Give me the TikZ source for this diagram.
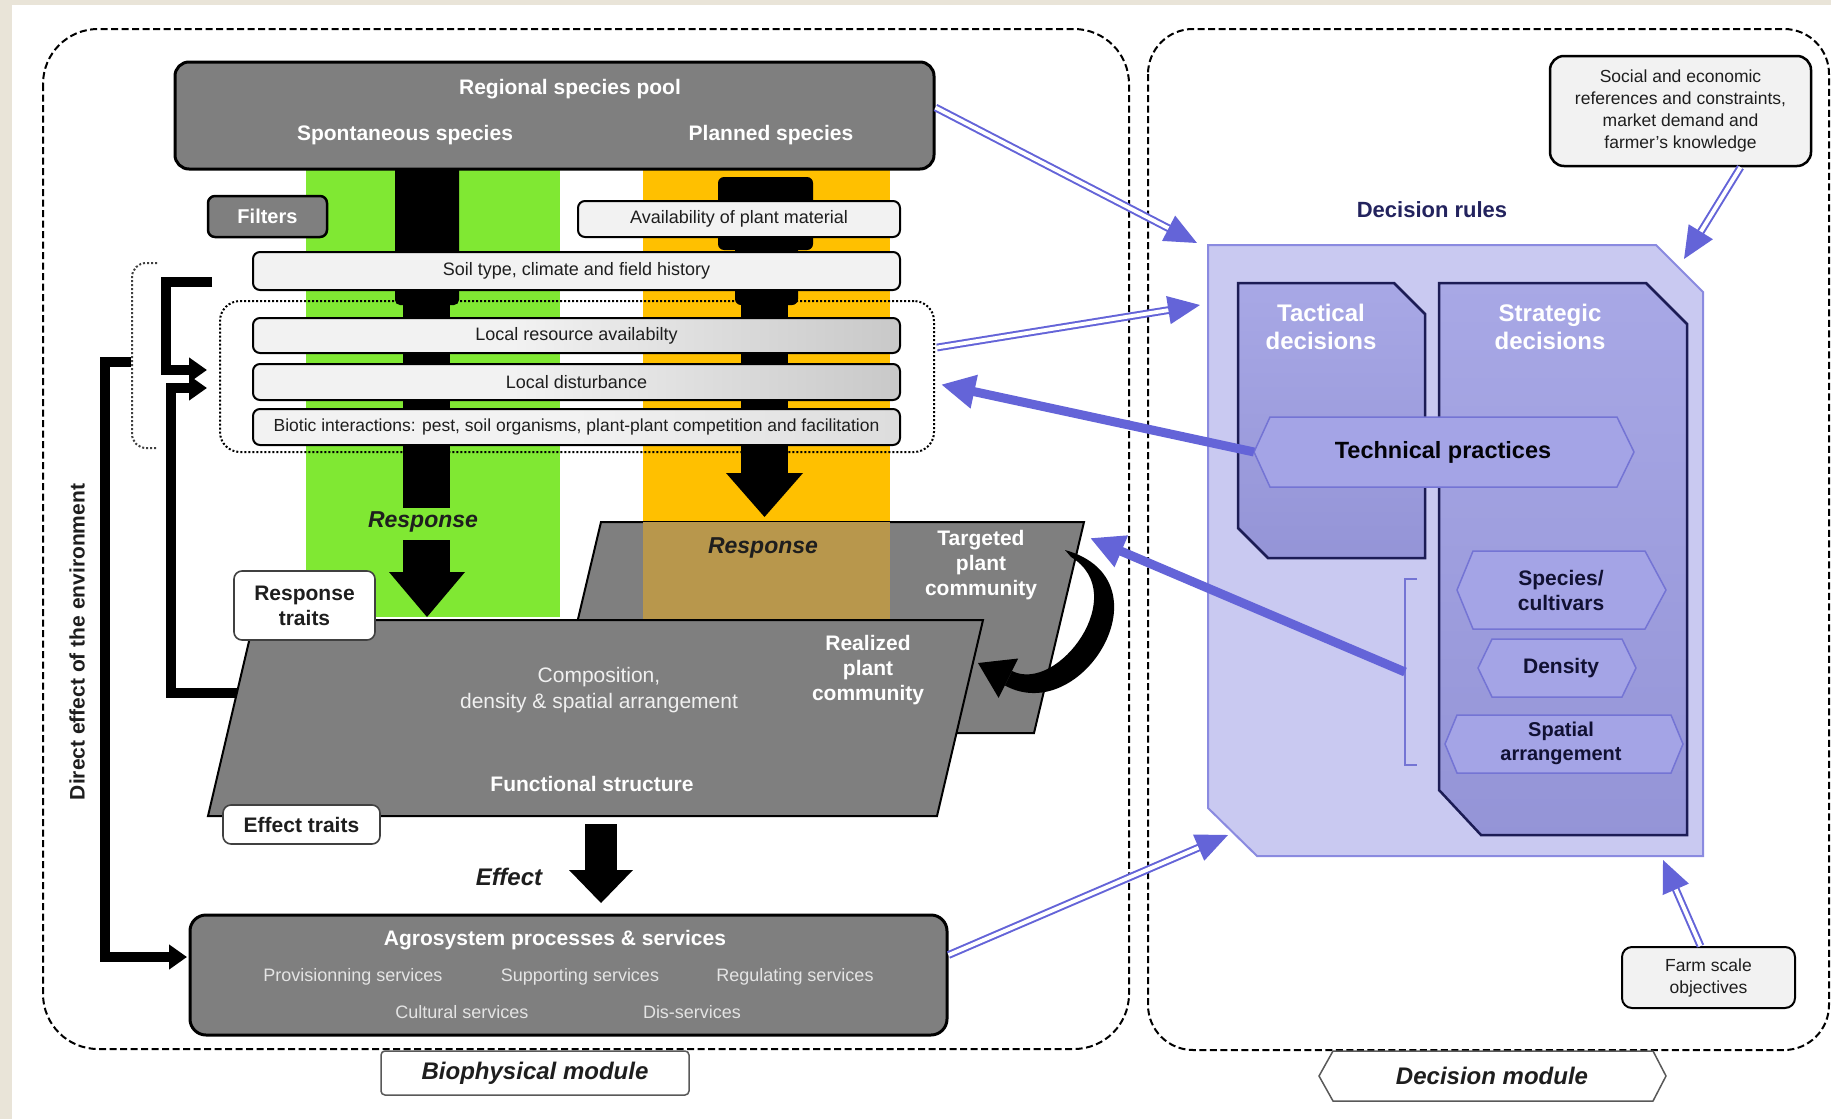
\documentclass[tikz,border=0pt]{standalone}
\usepackage{fontspec}
\setmainfont{Liberation Sans}
\usetikzlibrary{arrows.meta,calc}
\newcommand\fsz[2]{\fontsize{#1}{#2}\selectfont}
\definecolor{beige}{HTML}{E9E4D8}
\definecolor{boxgray}{HTML}{7F7F7F}
\definecolor{paleg}{HTML}{F2F2F2}
\definecolor{lime}{HTML}{80E833}
\definecolor{amber}{HTML}{FFC000}
\definecolor{blend}{HTML}{B8974C}
\definecolor{lav}{HTML}{C9C9F1}
\definecolor{lavline}{HTML}{8A8AE0}
\definecolor{midlav}{HTML}{9C9CE2}
\definecolor{navy}{HTML}{1C1C55}
\definecolor{hexfill}{HTML}{A4A4E6}
\definecolor{hexline}{HTML}{7474D4}
\definecolor{apurple}{HTML}{6464D8}
\definecolor{rulesnavy}{HTML}{23235E}
\definecolor{txtdark}{HTML}{1E1E1E}
\definecolor{servtxt}{HTML}{E4E4E4}
\pgfdeclarehorizontalshading{filtshade}{100bp}{color(0bp)=(paleg); color(45bp)=(paleg); color(100bp)=(black!35)}
\pgfdeclarehorizontalshading{filtshadelight}{100bp}{color(0bp)=(paleg); color(50bp)=(paleg); color(100bp)=(black!22)}
\begin{document}
\begin{tikzpicture}[x=1pt,y=-1pt,
  frame/.style={draw=black, line width=2, dash pattern=on 7pt off 3.5pt},
  darkbox/.style={draw=black, line width=3, fill=boxgray, rounded corners=14, inner sep=0},
  palebox/.style={draw=black, line width=2, fill=paleg, rounded corners=7, inner sep=0, font=\fsz{18}{21}, text=txtdark},
  shadebox/.style={palebox, shading=#1},
  whitebox/.style={draw=black!75, line width=1.6, fill=white, rounded corners=8, inner sep=0, font=\fsz{21}{25}\bfseries, align=center, text=txtdark},
  wbold/.style={text=white, font=\fsz{21}{25}\bfseries, align=center, inner sep=0},
  wreg/.style={text=white!94!black, font=\fsz{21}{26}, align=center, inner sep=0},
  serv/.style={text=servtxt, font=\fsz{18}{21}, inner sep=0},
  tagital/.style={font=\fsz{24}{28}\bfseries\itshape, text=txtdark, inner sep=0},
  blk/.style={line width=10, line join=miter, -{Triangle[length=18pt,width=24pt]}},
  dbl/.style={draw=apurple, line width=2, double=white, double distance=3.8, -{Triangle[length=32pt,width=28pt]}},
  thick purple/.style={draw=apurple, line width=9, -{Triangle[length=34pt,width=32pt]}},
  hexa/.style={fill=hexfill, draw=hexline, line width=1.5},
  dectxt/.style={font=\fsz{21}{25}\bfseries, text=navy!60!black, align=center, inner sep=0}
]
\useasboundingbox (0,0) rectangle (1831,1119);
\fill[white] (0,0) rectangle (1831,1119);
\fill[beige] (0,0) rectangle (12,1119);
\fill[beige] (0,0) rectangle (1831,5);

% ---------- the two module frames ----------
\draw[frame, rounded corners=55] (43,29) rectangle (1129,1049);
\draw[frame, rounded corners=45] (1148,29) rectangle (1829,1050);

% ---------- species columns ----------
\fill[lime] (306,160) rectangle (560,617);
\fill[amber] (643,160) rectangle (890,617);

% ---------- flows of species through the filters ----------
\fill[black, rounded corners=5] (395,150) rectangle (459,305);
\fill[black] (403,295) rectangle (450,508);
\fill[black, rounded corners=6] (718,177) rectangle (813,250);
\fill[black, rounded corners=6] (735,240) rectangle (798,305);
\fill[black] (741,295) rectangle (788,474);
\fill[black] (726,473) -- (803,473) -- (764.5,517) -- cycle;
\fill[black] (403,540) rectangle (450,573);
\fill[black] (389,572) -- (465,572) -- (427,617) -- cycle;
\node[tagital, font=\fsz{23}{27}\bfseries\itshape] (respA) at (423,522) {Response};

% ---------- regional species pool ----------
\node[darkbox, minimum width=759, minimum height=107] (pool) at (554.5,115.5) {};
\node[wbold] (poolT) at (570,89) {Regional species pool};
\node[wbold] (spont) at (405,135) {Spontaneous species};
\node[wbold] (plan) at (771,135) {Planned species};

% ---------- filters ----------
\node[darkbox, rounded corners=7, line width=2.5, minimum width=119, minimum height=41, text=white, font=\fsz{20}{24}\bfseries] (filters) at (267.5,216.5) {Filters};
\node[palebox, minimum width=322, minimum height=36] (avail) at (739,219) {Availability of plant material};
\node[palebox, minimum width=647, minimum height=38] (soil) at (576.5,271) {Soil type, climate and field history};
\node[draw=black, line width=2, dash pattern=on 2pt off 2pt, rounded corners=20, minimum width=714, minimum height=151, inner sep=0] (local) at (577,376.5) {};
\node[shadebox=filtshade, minimum width=647, minimum height=35] (res) at (576.5,335.5) {Local resource availabilty};
\node[shadebox=filtshade, minimum width=647, minimum height=36] (dist) at (576.5,382) {Local disturbance};
\node[shadebox=filtshadelight, minimum width=647, minimum height=36, font=\fsz{17.5}{21}] (biotic) at (576.5,427) {Biotic interactions: pest, soil organisms, plant-plant competition and facilitation};

% ---------- feedback connectors on the left ----------
\draw[black!75, line width=2, dash pattern=on 2pt off 2pt, rounded corners=14] (157,263) -- (132,263) -- (132,448) -- (157,448);
\coordinate (soilW) at (212,282);
\coordinate (inA) at (207,370);
\coordinate (inB) at (207,388);
\coordinate (realW) at (242,693);
\coordinate (brk) at (131,362);
\coordinate (agroIn) at (187,957);
\draw[blk] (soilW) -- (166,282) -- (166,370) -- (inA);
\draw[blk] (realW) -- (171,693) -- (171,388) -- (inB);
\draw[blk] (brk) -- (105,362) -- (105,957) -- (agroIn);
\node[rotate=90, font=\fsz{21}{25}\bfseries, text=txtdark, inner sep=0] (direct) at (77,642) {Direct effect of the environment};

% ---------- plant communities ----------
\path[fill=boxgray, draw=black, line width=2] (601,522) -- (1084,522) -- (1034,733) -- (551,733) -- cycle;
\begin{scope}
  \clip (601,522) -- (1084,522) -- (1034,733) -- (551,733) -- cycle;
  \fill[blend] (643,500) rectangle (890,740);
\end{scope}
\node[tagital, font=\fsz{23}{27}\bfseries\itshape] (respB) at (763,548) {Response};
\node[wbold] (target) at (981,565) {Targeted\\plant\\community};
\coordinate (targetE) at (1090,538);

\path[fill=boxgray, draw=black, line width=2] (254,620) -- (983,620) -- (937,816) -- (208,816) -- cycle;
\node[wreg] (compo) at (599,690) {Composition,\\density \& spatial arrangement};
\node[wbold] (realized) at (868,670) {Realized\\plant\\community};
\node[wbold] (funct) at (592,784) {Functional structure};

% curved, tapering arrow from the targeted to the realized community
\fill[black] (1065,550) .. controls (1172,580) and (1082,728) .. (1004.8,685.4)
  -- (1012,671) .. controls (1058,694) and (1132,594) .. (1071,557) -- cycle;
\fill[black] (978,663) -- (1018.2,658.5) -- (998.6,697.9) -- cycle;

\node[whitebox, minimum width=141, minimum height=69] (resptraits) at (304.5,605.5) {Response\\traits};
\node[whitebox, minimum width=157, minimum height=39] (efftraits) at (301.5,824.5) {Effect traits};

% ---------- effect ----------
\fill[black] (585,824) rectangle (617,871);
\fill[black] (569,870) -- (633,870) -- (601,903) -- cycle;
\node[tagital] (effect) at (509,877) {Effect};

% ---------- agrosystem ----------
\node[darkbox, rounded corners=16, minimum width=757, minimum height=120] (agro) at (568.5,975) {};
\node[wbold] (agroT) at (555,940) {Agrosystem processes \& services};
\node[serv] (s1) at (353,977) {Provisionning services};
\node[serv] (s2) at (580,977) {Supporting services};
\node[serv] (s3) at (795,977) {Regulating services};
\node[serv] (s4) at (462,1012) {Cultural services};
\node[serv] (s5) at (692,1012) {Dis-services};

% ---------- module labels ----------
\node[draw=black!65, line width=1.5, fill=white, rounded corners=4, minimum width=308, minimum height=44, inner sep=0, font=\fsz{24}{28}\bfseries\itshape, text=txtdark] (biolab) at (535,1073) {Biophysical module};
\draw[black!65, line width=1.5, fill=white] (1319,1076) -- (1333,1051) -- (1653,1051) -- (1666,1076) -- (1653,1101) -- (1333,1101) -- cycle;
\node[font=\fsz{24}{28}\bfseries\itshape, text=txtdark, inner sep=0] (declab) at (1492,1076) {Decision module};

% ---------- decision rules ----------
\node[font=\fsz{22}{26}\bfseries, text=rulesnavy, inner sep=0] (rules) at (1432,210) {Decision rules};
\path[fill=lav, draw=lavline, line width=2] (1208,245) -- (1656,245) -- (1703,292) -- (1703,856) -- (1257,856) -- (1208,808) -- cycle;
\coordinate (rulesA) at (1197,243);
\coordinate (rulesB) at (1200,305);
\coordinate (rulesC) at (1228,835);
\coordinate (rulesD) at (1684,259);
\coordinate (rulesE) at (1663,860);

\path[top color=midlav!88!white, bottom color=midlav!95!black, draw=navy, line width=2.5] (1238,283) -- (1394,283) -- (1425,314) -- (1425,558) -- (1268,558) -- (1238,528) -- cycle;
\path[top color=midlav!88!white, bottom color=midlav!95!black, draw=navy, line width=2.5] (1439,283) -- (1646,283) -- (1687,324) -- (1687,835) -- (1481,835) -- (1439,790) -- cycle;
\node[wbold, font=\fsz{24}{28}\bfseries] (tact) at (1321,327) {Tactical\\decisions};
\node[wbold, font=\fsz{24}{28}\bfseries] (strat) at (1550,327) {Strategic\\decisions};

\path[hexa] (1254,452) -- (1270,417) -- (1617,417) -- (1634,452) -- (1617,487) -- (1270,487) -- cycle;
\node[font=\fsz{23.5}{28}\bfseries, text=black!90!navy, inner sep=0] (tech) at (1443,452) {Technical practices};
\coordinate (techW) at (1254,452);

\path[hexa] (1457,590) -- (1473,551) -- (1645,551) -- (1666,590) -- (1645,629) -- (1473,629) -- cycle;
\node[dectxt] (species) at (1561,590) {Species/\\cultivars};
\path[hexa] (1478,668) -- (1492,639) -- (1622,639) -- (1636,668) -- (1622,697) -- (1492,697) -- cycle;
\node[dectxt] (density) at (1561,668) {Density};
\path[hexa] (1445,744) -- (1457,715) -- (1671,715) -- (1683,744) -- (1671,773) -- (1457,773) -- cycle;
\node[dectxt, font=\fsz{20}{24}\bfseries] (spatial) at (1561,743) {Spatial\\arrangement};

\draw[hexline, line width=1.6] (1417,579) -- (1405,579) -- (1405,765) -- (1417,765);
\coordinate (brkR) at (1405,672);

% ---------- drivers of the decision rules ----------
\node[draw=black, line width=2.5, fill=paleg, rounded corners=14, minimum width=261, minimum height=110, inner sep=0, align=center, font=\fsz{17.5}{22}, text=txtdark] (social) at (1680.5,111) {Social and economic\\references and constraints,\\market demand and\\farmer's knowledge};
\node[draw=black, line width=2, fill=paleg, rounded corners=10, minimum width=173, minimum height=61, inner sep=0, align=center, font=\fsz{17.5}{22}, text=txtdark] (farm) at (1708.5,977.5) {Farm scale\\objectives};

% ---------- links between the modules ----------
\draw[dbl] ($(pool.east)+(0,-8)$) -- (rulesA);
\draw[dbl] ($(local.east)+(2,-29)$) -- (rulesB);
\draw[dbl] ($(agro.east)+(0,-20)$) -- (rulesC);
\draw[dbl] ($(social.south)+(60,0)$) -- (rulesD);
\draw[dbl] ($(farm.north)+(-8,0)$) -- (rulesE);
\draw[thick purple] (techW) -- ($(local.east)+(6,8)$);
\draw[thick purple] (brkR) -- (targetE);
\end{tikzpicture}
\end{document}
